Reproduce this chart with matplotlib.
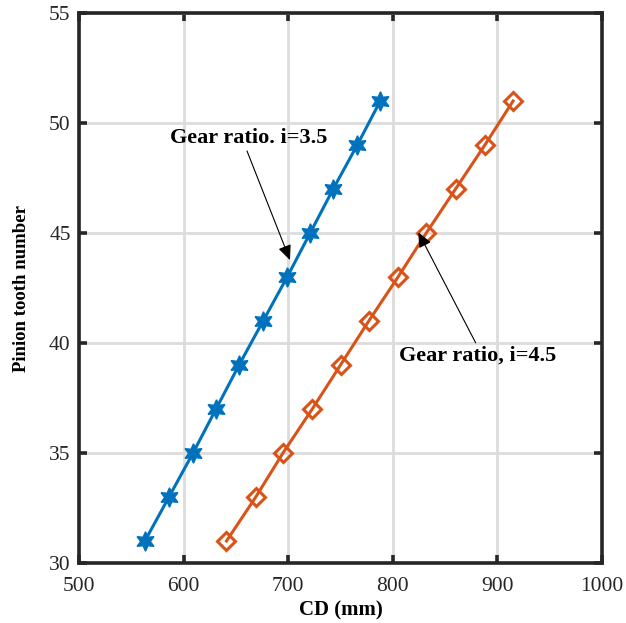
import matplotlib
matplotlib.use("Agg")
import matplotlib.pyplot as plt
import numpy as np

teeth = [31, 33, 35, 37, 39, 41, 43, 45, 47, 49, 51]
cd_i35 = [563, 586, 609, 631, 653, 676, 699, 721, 743, 766, 788]
cd_i45 = [641, 669, 695, 723, 750, 777, 805, 832, 860, 888, 915]
xticks = [500, 600, 700, 800, 900, 1000]
yticks = [30, 35, 40, 45, 50, 55]
label_35 = "Gear ratio. i=3.5"
label_45 = "Gear ratio, i=4.5"

plt.rcParams['font.family'] = ['Liberation Serif', 'DejaVu Serif']

fig = plt.figure(figsize=(6.26, 6.23), dpi=100)
ax = fig.add_axes([79/626, 1-563/623, 523/626, 550/623])

blue = '#0072BD'
orange = '#D95319'

ax.plot(cd_i35, teeth, color=blue, lw=2.2, marker=(6, 1, 0), markersize=14,
        markerfacecolor=blue, markeredgecolor=blue, zorder=3)
ax.plot(cd_i45, teeth, color=orange, lw=2.2, marker='D', markersize=9.5,
        markerfacecolor='none', markeredgecolor=orange, markeredgewidth=2.2, zorder=3)

ax.set_xlim(500, 1000)
ax.set_ylim(30, 55)
ax.set_xticks(xticks)
ax.set_yticks(yticks)
ax.grid(True, color='#dcdcdc', lw=2.0, zorder=0)
ax.set_axisbelow(True)

for s in ax.spines.values():
    s.set_linewidth(2.6)
    s.set_color('#262626')
ax.tick_params(direction='in', length=6, width=2.6, color='#262626',
               top=True, right=True, labelsize=15.5, labelcolor='#262626')
ax.tick_params(axis='x', pad=10)
ax.tick_params(axis='y', pad=6)

ax.set_xlabel('CD (mm)', fontsize=15, fontweight='bold', labelpad=3)
ax.set_ylabel('Pinion tooth number', fontsize=13.5, fontweight='bold', labelpad=14)

ap = dict(arrowstyle='-|>,head_length=0.9,head_width=0.4', lw=0.8, color='black',
          shrinkA=0, shrinkB=0)
ax.annotate('', xy=(701.7, 43.77), xytext=(660.6, 48.73), arrowprops=ap, zorder=4)
ax.annotate('', xy=(824.4, 45.03), xytext=(879.2, 40.01), arrowprops=ap, zorder=4)
ax.text(587, 49.3, label_35, fontsize=16, fontweight='bold', va='center', ha='left')
ax.text(806, 39.45, label_45, fontsize=16, fontweight='bold', va='center', ha='left')

fig.savefig('out.png', dpi=100)
